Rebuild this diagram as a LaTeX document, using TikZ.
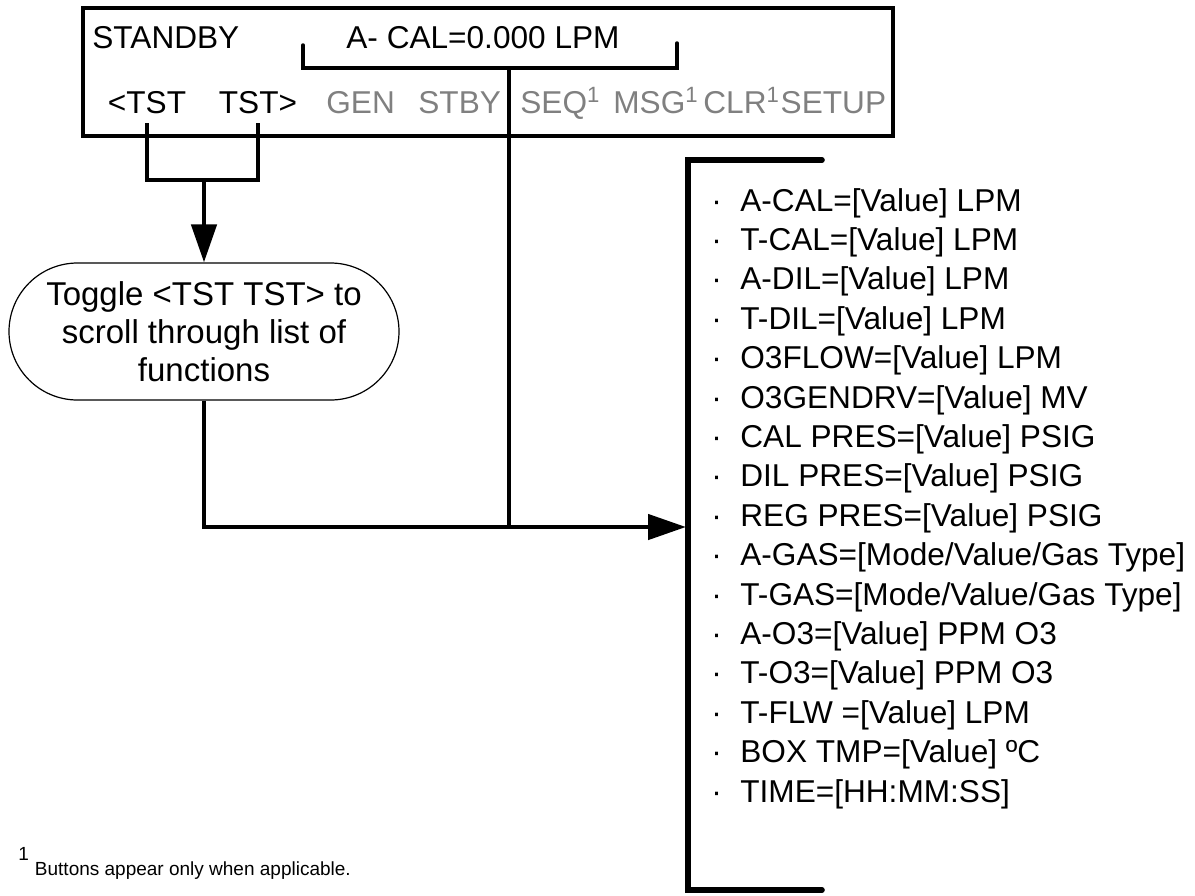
\documentclass[tikz,border=0pt]{standalone}
\usepackage{fontspec}
\setmainfont{Liberation Sans}
\usetikzlibrary{arrows.meta, positioning, shapes.misc}
\definecolor{btngray}{HTML}{808080}

\begin{document}
\begin{tikzpicture}[
    x=0.5pt, y=-0.5pt,
    font=\fontsize{15.8}{20.6}\selectfont,
    >={Triangle[length=19pt, width=12.5pt]},
    disp/.style={draw, line width=1.75pt, minimum width=405pt, minimum height=64pt, inner sep=0pt},
    txt/.style={inner sep=0pt, anchor=base west},
    btn/.style={txt, text=btngray},
    term/.style={draw, line width=0.6pt, rounded rectangle, minimum width=195pt, minimum height=68.5pt, align=center, inner sep=0pt, font=\fontsize{16.5}{19}\selectfont},
    conn/.style={line width=2.3pt},
    brk/.style={line width=1.75pt, line cap=round},
    lstbrk/.style={line width=2.8pt, line cap=round},
    fnote/.style={txt, font=\fontsize{9.5}{11}\selectfont},
  ]
  \useasboundingbox (0,0) rectangle (1195,895);
  % ---- display
  \node[disp] (screen) at (488,72) {};
  \node[txt] (mode) at (92,48) {STANDBY};
  \node[txt] (param) at (346,48) {A- CAL=0.000 LPM};
  \node[txt, anchor=base] (tstl) at (147,113) {<TST};
  \node[txt, anchor=base] (tstr) at (258,113) {TST>};
  \node[btn] (gen) at (326,113) {GEN};
  \node[btn] (stby) at (418,113) {STBY};
  \node[btn] (seq) at (520,113) {SEQ\textsuperscript{1}};
  \node[btn] (msg) at (613,113) {MSG\textsuperscript{1}};
  \node[btn] (clr) at (703,113) {CLR\textsuperscript{1}};
  \node[btn] (setup) at (clr.base east) {SETUP};
  % ---- bracket under the parameter
  \coordinate (brk-l) at (303,45);
  \coordinate (brk-r) at (677,43);
  \coordinate (brk-mid) at (509,68);
  \draw[brk] (brk-l) |- (brk-mid) -| (brk-r);
  % ---- toggle step
  \node[term] (toggle) at (204,331.5) {Toggle <TST TST> to\\scroll through list of\\functions};
  \coordinate (tst-join) at (204,180);
  \draw[conn] ([yshift=-5pt]tstl.base) |- (tst-join) -| ([yshift=-5pt]tstr.base);
  \draw[conn, ->] (tst-join) -- (toggle.north);
  % ---- list of functions
  \foreach \fnline [count=\i] in {A-CAL=[Value] LPM, T-CAL=[Value] LPM, A-DIL=[Value] LPM, T-DIL=[Value] LPM, O3FLOW=[Value] LPM, O3GENDRV=[Value] MV, CAL PRES=[Value] PSIG, DIL PRES=[Value] PSIG, REG PRES=[Value] PSIG, A-GAS=[Mode/Value/Gas Type], T-GAS=[Mode/Value/Gas Type], A-O3=[Value] PPM O3, T-O3=[Value] PPM O3, T-FLW =[Value] LPM, BOX TMP=[Value] ºC, TIME=[HH:MM:SS]}
    \node[txt] (fn\i) at (711, {211+(\i-1)*39.4}) {\makebox[14.5pt][l]{·}\fnline};
  \coordinate (lst-ne) at (822,160);
  \coordinate (lst-nw) at (688,160);
  \coordinate (lst-sw) at (688,890);
  \coordinate (lst-se) at (822,890);
  \draw[lstbrk] (lst-ne) -- (lst-nw) -- (lst-sw) -- (lst-se);
  % ---- arrows into the list
  \coordinate (lst-in) at (686,527);
  \draw[conn, ->] (toggle.south) |- (lst-in);
  \draw[conn] (brk-mid) -- (brk-mid |- lst-in);
  % ---- footnote
  \node[fnote] (note) at (18,875) {\raisebox{7.5pt}{1}\hspace{3pt}Buttons appear only when applicable.};
\end{tikzpicture}
\end{document}
